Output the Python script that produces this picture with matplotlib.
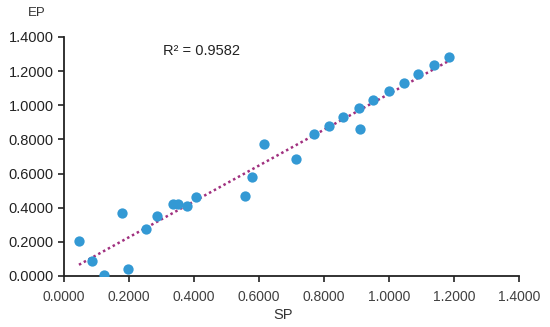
import numpy as np
import matplotlib.pyplot as plt

sp = [0.046, 0.085, 0.123, 0.178, 0.198, 0.252, 0.285, 0.334, 0.352, 0.379,
      0.406, 0.557, 0.577, 0.616, 0.714, 0.769, 0.814, 0.859, 0.908, 0.911,
      0.952, 1.000, 1.045, 1.090, 1.138, 1.184]
ep = [0.207, 0.090, 0.008, 0.367, 0.041, 0.275, 0.350, 0.422, 0.422, 0.408,
      0.465, 0.470, 0.580, 0.773, 0.687, 0.832, 0.880, 0.930, 0.982, 0.863,
      1.033, 1.082, 1.132, 1.183, 1.236, 1.283]
ticks = [0.0, 0.2, 0.4, 0.6, 0.8, 1.0, 1.2, 1.4]

plt.rcParams['font.family'] = ['Liberation Sans', 'DejaVu Sans']

fig = plt.figure(figsize=(5.5, 3.27), dpi=100)
ax = fig.add_axes([0.1164, 0.156, 0.8272, 0.731])

ax.scatter(sp, ep, s=55, color='#3399d4', zorder=3, linewidths=0)

# linear trendline
k, b = np.polyfit(sp, ep, 1)
xs = np.array([min(sp), max(sp)])
ax.plot(xs, k * xs + b, linestyle=(0, (1, 1.2)), color='#a0307f', linewidth=1.8, zorder=2)

ax.set_xlim(0, 1.4)
ax.set_ylim(0, 1.4)
ax.set_xticks(ticks)
ax.set_yticks(ticks)
ax.set_xticklabels(['{:.4f}'.format(t) for t in ticks], fontsize=10, color='#404040')
ax.set_yticklabels(['{:.4f}'.format(t) for t in ticks], fontsize=10.5, color='#222222')

for s in ['top', 'right']:
    ax.spines[s].set_visible(False)
for s in ['left', 'bottom']:
    ax.spines[s].set_color('#222222')
    ax.spines[s].set_linewidth(1.3)
ax.tick_params(direction='out', length=4, width=1.2, color='#222222')
ax.tick_params(axis='x', pad=6)

fig.text(37 / 550, 1 - 13 / 327, 'EP', fontsize=9.5, ha='center', va='center', color='#333333')
fig.text(283 / 550, 1 - 315 / 327, 'SP', fontsize=10.5, ha='center', va='center', color='#333333')
fig.text(163 / 550, 1 - 51 / 327, 'R² = 0.9582', fontsize=10.5, ha='left', va='center', color='#222222')

fig.savefig('out.png', dpi=100)
